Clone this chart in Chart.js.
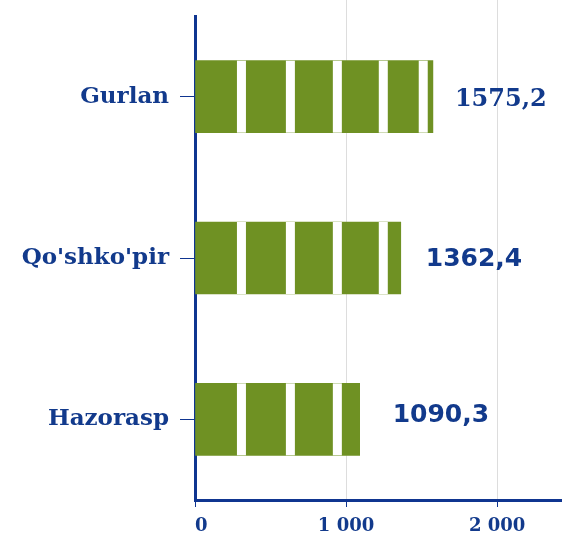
<!DOCTYPE html>
<html>
<head>
<meta charset="utf-8">
<script src="https://cdn.jsdelivr.net/npm/chart.js@4/dist/chart.umd.min.js"></script>
<style>
html, body { margin: 0; padding: 0; background: #fff; }
</style>
</head>
<body>
<canvas id="chart" width="562" height="535"></canvas>
<script>
// DATOS
const districts = ["Gurlan", "Qo'shko'pir", "Hazorasp"];
const values = [1575.2, 1362.4, 1090.3];
const valueLabels = ["1575,2", "1362,4", "1090,3"];
const xTicks = [0, 1000, 2000];
const xMax = 2430;

const BLUE = '#0f3590';
const TEXT = '#123a8c';
const GREEN = '#6f9123';

// franjas blancas dentro de las barras (en unidades del eje)
const stripes = {
    id: 'stripes',
    afterDatasetsDraw(chart, args, opts) {
        const ctx = chart.ctx;
        const xs = chart.scales.x;
        chart.getDatasetMeta(0).data.forEach((bar, i) => {
            const top = bar.y - bar.height / 2;
            ctx.save();
            ctx.fillStyle = '#fff';
            opts.at.forEach(g => {
                if (g < values[i]) {
                    const px = xs.getPixelForValue(g);
                    ctx.fillRect(px - opts.width / 2, top, opts.width, bar.height);
                }
            });
            ctx.restore();
        });
    }
};

// etiquetas con el valor al final de cada barra
const barValues = {
    id: 'barValues',
    afterDatasetsDraw(chart, args, opts) {
        const ctx = chart.ctx;
        chart.getDatasetMeta(0).data.forEach((bar, i) => {
            ctx.save();
            ctx.fillStyle = TEXT;
            ctx.font = opts.fonts[i];
            ctx.textAlign = 'left';
            ctx.textBaseline = 'middle';
            ctx.fillText(valueLabels[i], bar.x + opts.dx[i], bar.y + opts.dy[i]);
            ctx.restore();
        });
    }
};

// lineas de la rejilla por encima del area
const gridTop = {
    id: 'gridTop',
    beforeDatasetsDraw(chart) {
        const ctx = chart.ctx;
        const xs = chart.scales.x;
        ctx.save();
        ctx.strokeStyle = '#dddddd';
        ctx.lineWidth = 1;
        xTicks.filter(v => v > 0).forEach(v => {
            const px = Math.round(xs.getPixelForValue(v)) + 0.5;
            ctx.beginPath();
            ctx.moveTo(px, 0);
            ctx.lineTo(px, chart.chartArea.top);
            ctx.stroke();
        });
        ctx.restore();
    }
};

function thousands(v) {
    if (v === 0) return '  0';
    return String(v).replace(/\B(?=(\d{3})+(?!\d))/g, ' ');
}

function renderChart() {
    const ctx = document.querySelector('#chart').getContext('2d');
    new Chart(ctx, {
        type: 'bar',
        data: {
            labels: districts,
            datasets: [{
                data: values,
                backgroundColor: GREEN,
                borderWidth: 0,
                barThickness: 72
            }]
        },
        options: {
            indexAxis: 'y',
            responsive: false,
            animation: false,
            layout: { padding: { top: 16, right: 0, left: 0, bottom: 0 } },
            plugins: {
                legend: { display: false },
                tooltip: { enabled: false },
                stripes: { at: [307.5, 631.6, 942.5, 1246.7, 1511.2], width: 9 },
                barValues: {
                    fonts: ['bold 24px "DejaVu Serif"', 'bold 25px "DejaVu Sans"', 'bold 25px "DejaVu Sans"'],
                    dx: [22, 25, 33],
                    dy: [3, 1, -4]
                }
            },
            scales: {
                x: {
                    min: 0,
                    max: xMax,
                    afterBuildTicks: s => { s.ticks = xTicks.map(v => ({ value: v })); },
                    afterFit: s => { s.height = 35; s.paddingLeft = 0; s.paddingRight = 0; },
                    ticks: {
                        color: TEXT,
                        font: { family: 'DejaVu Serif', weight: 'bold', size: 18 },
                        padding: 9,
                        maxRotation: 0,
                        autoSkip: false,
                        callback: v => thousands(v)
                    },
                    grid: { color: '#dddddd', lineWidth: 1, tickColor: BLUE, tickLength: 7 },
                    border: { color: BLUE, width: 3 }
                },
                y: {
                    afterFit: s => { s.width = 195; s.paddingTop = 0; s.paddingBottom = 0; },
                    ticks: {
                        color: TEXT,
                        font: { family: 'DejaVu Serif', weight: 'bold', size: 23 },
                        padding: 11
                    },
                    grid: { offset: false, drawOnChartArea: false, color: BLUE, lineWidth: 1, tickLength: 15 },
                    border: { color: BLUE, width: 3 }
                }
            }
        },
        plugins: [stripes, barValues, gridTop]
    });
}
renderChart();
</script>
</body>
</html>
